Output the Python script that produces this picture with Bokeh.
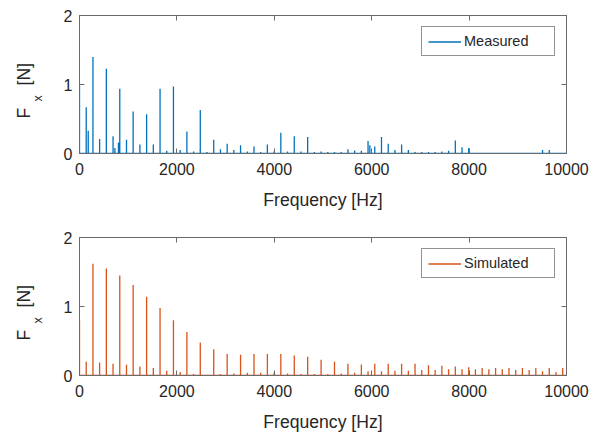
import numpy as np
from bokeh.plotting import figure
from bokeh.models import Range1d, LinearAxis, FixedTicker, Label, Legend, LegendItem
from bokeh.layouts import column, row
from bokeh.embed import file_html
from bokeh.resources import INLINE

# ---------------- data ----------------
x_ticks = [0, 2000, 4000, 6000, 8000, 10000]
y_ticks = [0, 1, 2]

meas_freq = [0, 138, 179, 276, 413, 551, 689, 727, 800, 827, 965, 1102, 1240, 1378,
             1516, 1654, 1791, 1929, 2067, 2205, 2343, 2480, 2618, 2756, 2894, 3032,
             3169, 3307, 3445, 3583, 3721, 3858, 3996, 4134, 4272, 4410, 4547, 4685,
             4823, 4961, 5099, 5236, 5374, 5512, 5650, 5788, 5925, 5962, 6063, 6201,
             6339, 6477, 6614, 6752, 6890, 7028, 7166, 7303, 7441, 7579, 7717, 7855,
             7992, 9508, 9646, 10000]
meas_amp = [1.00, 0.67, 0.33, 1.40, 0.21, 1.23, 0.25, 0.08, 0.16, 0.94, 0.20, 0.61, 0.13, 0.57,
            0.13, 0.94, 0.04, 0.97, 0.05, 0.32, 0.03, 0.63, 0.02, 0.20, 0.06, 0.14,
            0.05, 0.12, 0.03, 0.10, 0.02, 0.13, 0.03, 0.30, 0.03, 0.25, 0.03, 0.24,
            0.02, 0.03, 0.02, 0.02, 0.02, 0.06, 0.045, 0.04, 0.18, 0.12, 0.10, 0.24,
            0.14, 0.05, 0.13, 0.05, 0.02, 0.02, 0.02, 0.02, 0.03, 0.04, 0.19, 0.09,
            0.08, 0.05, 0.05, 0.0]

sim_freq = [0, 138, 276, 413, 551, 689, 827, 965, 1102, 1240, 1378, 1516, 1654, 1791,
            1929, 2067, 2205, 2343, 2480, 2618, 2756, 2894, 3032, 3169, 3307, 3445,
            3583, 3721, 3858, 3996, 4134, 4272, 4410, 4547, 4685, 4823, 4961, 5099,
            5236, 5374, 5512, 5650, 5788, 5925, 6063, 6201, 6339, 6477, 6614, 6752,
            6890, 7028, 7166, 7303, 7441, 7579, 7717, 7855, 7992, 8130, 8268, 8406,
            8544, 8681, 8819, 8957, 9095, 9233, 9370, 9508, 9646, 9784, 9922, 10000]
sim_amp = [0.80, 0.20, 1.62, 0.19, 1.55, 0.17, 1.45, 0.155, 1.31, 0.13, 1.14, 0.11, 0.98, 0.07,
           0.80, 0.05, 0.63, 0.02, 0.48, 0.01, 0.38, 0.02, 0.31, 0.03, 0.30, 0.04,
           0.31, 0.04, 0.31, 0.04, 0.31, 0.03, 0.29, 0.02, 0.27, 0.02, 0.23, 0.02,
           0.20, 0.03, 0.17, 0.04, 0.16, 0.06, 0.17, 0.06, 0.17, 0.07, 0.17, 0.07,
           0.17, 0.08, 0.15, 0.08, 0.14, 0.09, 0.13, 0.09, 0.12, 0.09, 0.11, 0.09,
           0.11, 0.09, 0.11, 0.08, 0.11, 0.08, 0.11, 0.06, 0.11, 0.05, 0.11, 0.0]

series = [
    ("Measured", meas_freq, meas_amp, "#0072BD"),
    ("Simulated", sim_freq, sim_amp, "#D95319"),
]

FONT = "Liberation Sans"
AX = "#6a6a6a"
TXT = "#262626"
LABEL_W = 48          # width of the strip that holds the y-axis title
FRAME_LEFT = 79
FRAME_RIGHT = 566
TOTAL_W = 590


def spike_path(freqs, amps):
    xs, ys = [], []
    for f, a in zip(freqs, amps):
        xs += [f, f, f]
        ys += [0.0, a, 0.0]
    return xs, ys


def style_axis(ax, ticks, show_labels=True):
    ax.ticker = FixedTicker(ticks=ticks)
    ax.major_tick_in = 5
    ax.major_tick_out = 0
    ax.minor_tick_in = 0
    ax.minor_tick_out = 0
    ax.axis_line_color = AX
    ax.major_tick_line_color = AX
    ax.major_label_text_font = FONT
    ax.major_label_text_color = TXT
    if show_labels:
        ax.major_label_text_font_size = "16px"
    else:
        ax.major_label_overrides = {t: "" for t in ticks}
        ax.major_label_text_font_size = "1px"
        ax.major_label_standoff = 0


def make_title_strip(height):
    s = figure(width=LABEL_W, height=height, x_axis_type=None, y_axis_type=None,
               output_backend="svg", toolbar_location=None,
               min_border_left=0, min_border_right=0, min_border_top=0, min_border_bottom=0)
    s.outline_line_color = None
    s.grid.visible = False
    s.border_fill_color = "white"
    common = dict(x_units="screen", y_units="screen", angle=np.pi / 2,
                  text_font=FONT, text_color=TXT, text_align="left",
                  text_baseline="alphabetic")
    # the strip's frame lines up with the panel frame; y is measured up from its bottom
    s.add_layout(Label(x=23, y=35, text="F", text_font_size="17.6px", **common))
    s.add_layout(Label(x=37, y=52, text="x", text_font_size="12.5px", **common))
    s.add_layout(Label(x=23, y=68, text="[N]", text_font_size="17.6px", **common))
    return s


def make_panel(name, freqs, amps, color, height, border_bottom):
    p = figure(width=TOTAL_W - LABEL_W, height=height,
               x_range=Range1d(0, 10000), y_range=Range1d(0, 2),
               output_backend="svg", toolbar_location=None,
               min_border_left=FRAME_LEFT - LABEL_W, min_border_right=TOTAL_W - FRAME_RIGHT,
               min_border_top=15, min_border_bottom=border_bottom)
    p.grid.visible = False
    p.outline_line_color = AX
    p.background_fill_color = "white"
    p.border_fill_color = "white"

    xs, ys = spike_path(freqs, amps)
    r = p.line(xs, ys, line_color=color, line_width=1.3)

    style_axis(p.xaxis[0], x_ticks)
    style_axis(p.yaxis[0], y_ticks)
    p.xaxis.major_label_standoff = 9
    p.yaxis.major_label_standoff = 7
    p.xaxis.axis_label = "Frequency [Hz]"
    p.xaxis.axis_label_text_font = FONT
    p.xaxis.axis_label_text_font_size = "17.6px"
    p.xaxis.axis_label_text_font_style = "normal"
    p.xaxis.axis_label_text_color = TXT
    p.xaxis.axis_label_standoff = 12

    top_ax = LinearAxis(axis_label=None)
    right_ax = LinearAxis(axis_label=None)
    style_axis(top_ax, x_ticks, show_labels=False)
    style_axis(right_ax, y_ticks, show_labels=False)
    p.add_layout(top_ax, "above")
    p.add_layout(right_ax, "right")

    legend = Legend(items=[LegendItem(label=name, renderers=[r])], location="top_right",
                    margin=11, padding=6, spacing=0, glyph_width=33, glyph_height=15,
                    label_height=15, label_width=84, label_standoff=3,
                    label_text_font=FONT, label_text_font_size="14.5px",
                    label_text_color=TXT, border_line_color=TXT, border_line_width=1,
                    background_fill_color="white", background_fill_alpha=1.0)
    p.add_layout(legend)
    return row(make_title_strip(height), p, spacing=0)


top = make_panel(*series[0], height=222, border_bottom=69)
bottom = make_panel(*series[1], height=213, border_bottom=60)

layout = column(top, bottom, spacing=0)
open("out.html", "w").write(file_html(layout, INLINE))
